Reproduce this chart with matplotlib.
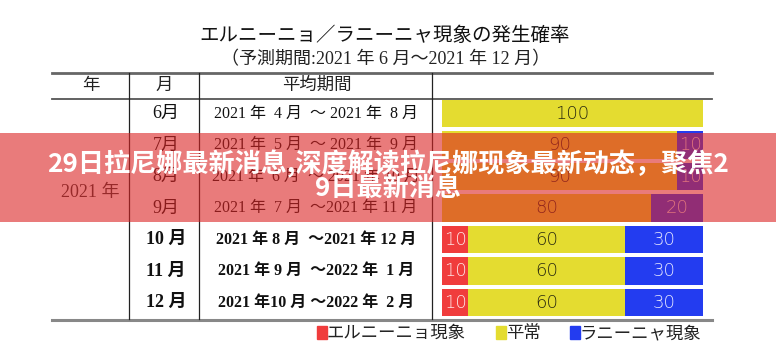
import matplotlib
matplotlib.use('Agg')
import matplotlib.pyplot as plt
from matplotlib.patches import Rectangle
from matplotlib.transforms import blended_transform_factory

plt.rcParams['font.family'] = ['Noto Sans CJK JP', 'DejaVu Sans']

# data
title = 'エルニーニョ／ラニーニャ現象の発生確率'
subtitle = '（予測期間:2021 年 6 月～2021 年 12 月）'
headers = ['年', '月', '平均期間']
year_label = '2021 年'
months = ['6月', '7月', '8月', '9月', '10 月', '11 月', '12 月']
periods = ['2021 年  4 月  ～ 2021 年  8 月',
           '2021 年  5 月  ～ 2021 年  9 月',
           '2021 年  6 月  ～ 2021 年 10 月',
           '2021 年  7 月  ～2021 年 11 月',
           '2021 年 8 月  ～2021 年 12 月',
           '2021 年 9 月  ～2022 年  1 月',
           '2021 年10 月 ～2022 年  2 月']
el_nino = [0, 0, 0, 0, 10, 10, 10]
normal = [100, 90, 90, 80, 60, 60, 60]
la_nina = [0, 10, 10, 20, 30, 30, 30]
legend_labels = ['エルニーニョ現象', '平常', 'ラニーニャ現象']
banner = ['29日拉尼娜最新消息,深度解读拉尼娜现象最新动态，聚焦2', '9日最新消息']

RED = '#f03c3c'
YELLOW = '#e4dc30'
BLUE = '#233cf0'
SERIF = ['Liberation Serif', 'Noto Sans CJK JP']

W, H = 776, 357
fig = plt.figure(figsize=(W / 100, H / 100), dpi=100)


def pixel_axes(z):
    a = fig.add_axes([0, 0, 1, 1], zorder=z)
    a.set_xlim(0, W)
    a.set_ylim(H, 0)
    a.axis('off')
    return a


# full-figure axes in pixel units for the table
ax = pixel_axes(1)

# bar axes
top, bottom = 97.75, 318.25
bx = fig.add_axes([442 / W, 1 - bottom / H, 261 / W, (bottom - top) / H], zorder=2)
bx.set_xlim(0, 100)
bx.set_ylim(len(months) - 0.5, -0.5)
bx.axis('off')

rows = list(range(len(months)))
left2 = [a + b for a, b in zip(el_nino, normal)]
bx.barh(rows, el_nino, height=0.86, color=RED)
bx.barh(rows, normal, left=el_nino, height=0.86, color=YELLOW)
bx.barh(rows, la_nina, left=left2, height=0.86, color=BLUE)

num_font = dict(family=['DejaVu Sans'], fontsize=13, fontweight=200,
                ha='center', va='center')
for i in rows:
    if el_nino[i]:
        bx.text(el_nino[i] / 2, i, str(el_nino[i]), color='#ffe6e6', **num_font)
    if normal[i]:
        bx.text(el_nino[i] + normal[i] / 2, i, str(normal[i]), color='#2a2a10', **num_font)
    if la_nina[i]:
        bx.text(left2[i] + la_nina[i] / 2, i, str(la_nina[i]), color='#e6e8ff', **num_font)

# table text
ax.text(385, 35, title, ha='center', va='center', fontsize=14, color='#111')
ax.text(386, 60, subtitle, ha='center', va='center', fontsize=13,
        family=SERIF, color='#222')
for x, h in zip([91, 164, 317], headers):
    ax.text(x, 85, h, ha='center', va='center', fontsize=12.5, color='#222')

tr = blended_transform_factory(ax.transData, bx.transData)
for i in rows:
    wt = 'bold' if i >= 4 else 'normal'
    ax.text(166, i, months[i], transform=tr, ha='center', va='center',
            fontsize=13, family=SERIF, fontweight=wt, color='#111')
    ax.text(316, i, periods[i], transform=tr, ha='center', va='center',
            fontsize=11.5, family=SERIF, fontweight=wt, color='#111')
ax.text(90, 192, year_label, ha='center', va='center', fontsize=13,
        family=SERIF, color='#333')

# table rules
ax.plot([52, 712], [72.5, 72.5], color='#666', lw=2)
ax.plot([52, 712], [99, 99], color='#555', lw=1.3)
ax.plot([52, 712], [319.5, 319.5], color='#888', lw=2.2)
for x in [129, 199, 432]:
    ax.plot([x, x], [72.5, 319], color='#222', lw=0.9)

# legend
for x, lab, c in zip([317, 496, 570], legend_labels, [RED, YELLOW, BLUE]):
    ax.add_patch(Rectangle((x, 326), 10, 13, color=c))
    ax.text(x + 10, 333, lab, ha='left', va='center', fontsize=12.5, color='#222')

# banner overlay on top of everything
ov = pixel_axes(3)
ov.add_patch(Rectangle((0, 133), W, 89, color=(0.86, 0.14, 0.14), alpha=0.6, lw=0))
for y, line in zip([164, 189], banner):
    ov.text(388, y, line, ha='center', va='center', fontsize=18.8,
            fontweight='bold', color='white',
            family=['Noto Sans CJK SC', 'DejaVu Sans'])

fig.savefig('out.png', dpi=100)
